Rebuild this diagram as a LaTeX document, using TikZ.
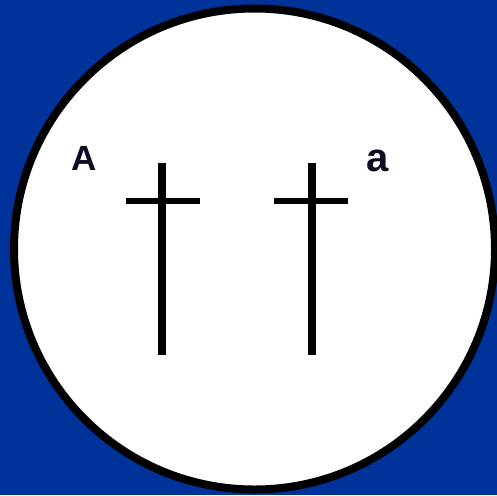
\documentclass[tikz,border=0pt]{standalone}
\usepackage{fontspec}
\setmainfont{Liberation Sans}
\definecolor{bgblue}{RGB}{0,51,153}
\definecolor{labelnavy}{RGB}{12,12,34}
\begin{document}
\begin{tikzpicture}[x=1pt,y=-1pt,
  barline/.style={line width=7pt},
  lbl/.style={text=labelnavy,font=\bfseries,inner sep=0pt}]
\fill[bgblue] (0,0) rectangle (497,495);
\useasboundingbox (0,0) rectangle (497,495);
\draw[fill=white,line width=8pt] (254.5,249) circle[radius=240.5];
% left cross
\coordinate (l1) at (162,163);
\coordinate (l2) at (162,355);
\coordinate (l3) at (126,201);
\coordinate (l4) at (200,201);
\draw[barline,line width=8pt] (l1) -- (l2);
\draw[barline,line width=6pt] (l3) -- (l4);
% right cross
\coordinate (r1) at (312,163);
\coordinate (r2) at (312,355);
\coordinate (r3) at (274,201);
\coordinate (r4) at (348,201);
\draw[barline,line width=8pt] (r1) -- (r2);
\draw[barline,line width=6pt] (r3) -- (r4);
\node[lbl,font=\bfseries\fontsize{35}{35}\selectfont] (A) at (84,158) {A};
\node[lbl,font=\bfseries\fontsize{40}{40}\selectfont] (a) at (378,161) {a};
\end{tikzpicture}
\end{document}
